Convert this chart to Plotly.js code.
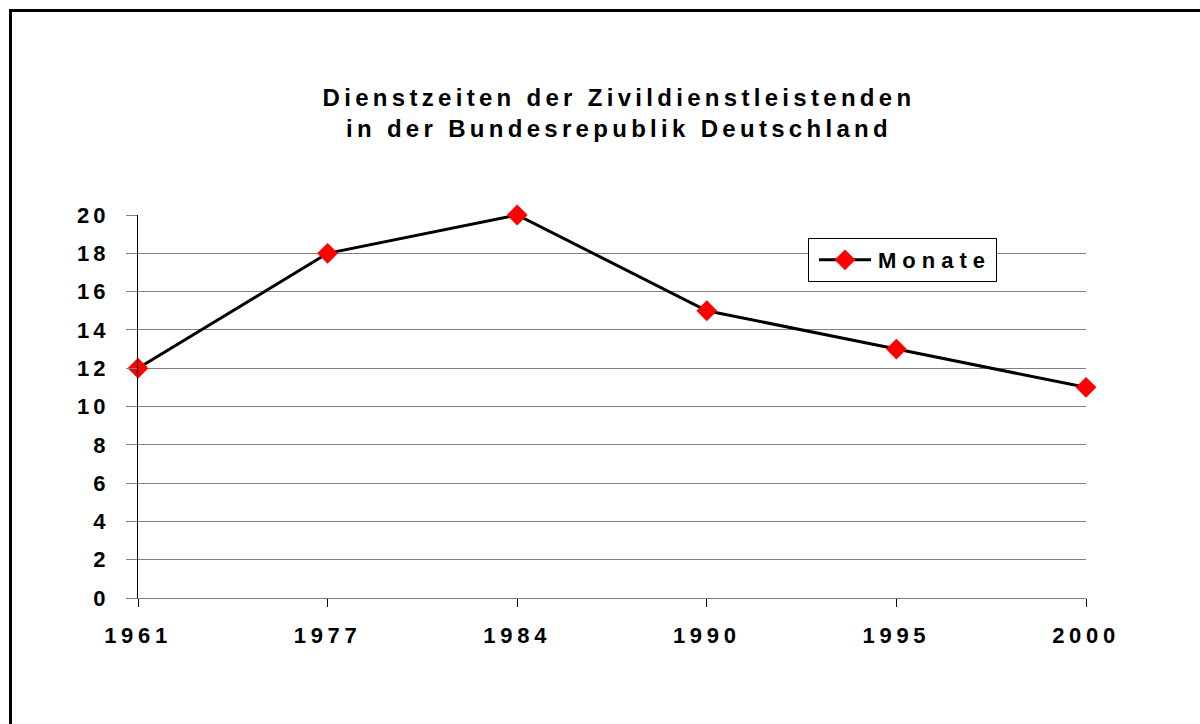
<!DOCTYPE html>
<html>
<head>
<meta charset="utf-8">
<script src="https://cdn.plot.ly/plotly-3.0.1.min.js"></script>
<style>
  html, body { margin: 0; padding: 0; background: #fff; }
  #chart { width: 1200px; height: 724px; }
  .gtitle { letter-spacing: 4.3px; }
  .xtick text { letter-spacing: 4.7px; }
  .ytick text { letter-spacing: 4px; }
  .legendtext { letter-spacing: 6px; }
</style>
</head>
<body>
<div id="chart"></div>
<script>
const categories = ["1961", "1977", "1984", "1990", "1995", "2000"];
const monate = [12, 18, 20, 15, 13, 11];
const seriesName = "Monate";
const yTicks = [0, 2, 4, 6, 8, 10, 12, 14, 16, 18, 20];
const titleText = "Dienstzeiten der Zivildienstleistenden<br>in der Bundesrepublik Deutschland";

const FONT = "Liberation Sans, Arial, sans-serif";

const trace = {
  x: categories,
  y: monate,
  name: seriesName,
  type: "scatter",
  mode: "lines+markers",
  line: { color: "#000000", width: 3 },
  marker: { symbol: "diamond", size: 16, color: "#ff0000", line: { width: 0 } },
  cliponaxis: false,
  showlegend: true
};

// plot area pixel geometry: x 138..1086, y 215..598
const L = 138, R = 1086, T = 215, B = 598, W = 1200, H = 724;
const px2x = p => (p - L) / (R - L);
const py2y = p => (B - p) / (B - T);

const layout = {
  width: W,
  height: H,
  margin: { l: L, r: W - R, t: T, b: H - B, pad: 0 },
  paper_bgcolor: "#ffffff",
  plot_bgcolor: "#ffffff",
  font: { family: FONT, color: "#000000", size: 22 },
  title: {
    text: titleText,
    font: { family: FONT, size: 24, color: "#000000", weight: "bold" },
    xref: "paper",
    x: px2x(619),
    xanchor: "center",
    yref: "container",
    y: 1 - 106 / H,
    yanchor: "middle"
  },
  xaxis: {
    type: "category",
    range: [0, categories.length - 1],
    showgrid: false,
    zeroline: false,
    showline: true,
    linecolor: "#808080",
    linewidth: 1,
    ticks: "outside",
    ticklen: 8,
    tickcolor: "#000000",
    tickwidth: 1,
    ticklabelstandoff: 10,
    tickfont: { family: FONT, size: 22, color: "#000000", weight: "bold" },
    fixedrange: true
  },
  yaxis: {
    range: [0, 20],
    tickvals: yTicks,
    ticktext: yTicks.map(String),
    showgrid: true,
    gridcolor: "#808080",
    gridwidth: 1,
    zeroline: false,
    showline: true,
    linecolor: "#000000",
    linewidth: 1,
    ticks: "outside",
    ticklen: 11,
    tickcolor: "#808080",
    tickwidth: 1,
    ticklabelstandoff: 12,
    tickfont: { family: FONT, size: 22, color: "#000000", weight: "bold" },
    fixedrange: true
  },
  legend: {
    x: px2x(808),
    y: py2y(238),
    xanchor: "left",
    yanchor: "top",
    bgcolor: "#ffffff",
    bordercolor: "#000000",
    borderwidth: 1,
    font: { family: FONT, size: 22, color: "#000000", weight: "bold" },
    itemwidth: 59
  },
  shapes: [
    {
      type: "rect",
      xref: "paper", yref: "paper",
      x0: px2x(10.5), x1: px2x(1260),
      y0: py2y(780), y1: py2y(10.5),
      line: { color: "#000000", width: 3 },
      fillcolor: "rgba(0,0,0,0)",
      layer: "above"
    }
  ]
};

Plotly.newPlot("chart", [trace], layout, { displayModeBar: false, staticPlot: true }).then(function (gd) {
  // lengthen the legend sample line and centre its marker on it
  gd.querySelectorAll(".legend .legendlines path").forEach(function (p) {
    p.setAttribute("d", "M10,0h52");
  });
  gd.querySelectorAll(".legend .legendpoints path.scatterpts").forEach(function (p) {
    p.setAttribute("transform", "translate(36,0)");
  });
});
</script>
</body>
</html>
